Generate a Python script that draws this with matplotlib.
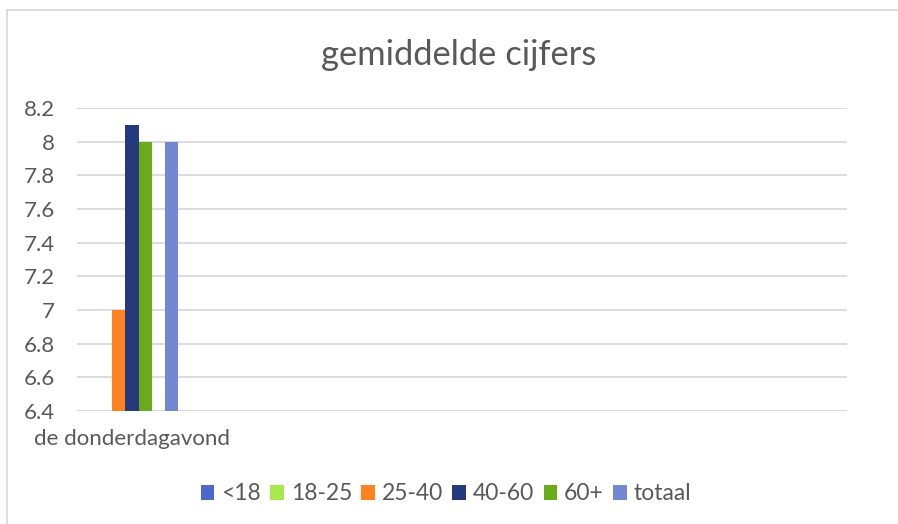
import numpy as np
import matplotlib
matplotlib.use("Agg")
import matplotlib.pyplot as plt
from matplotlib.lines import Line2D
from matplotlib.patches import Patch

categories = ["de donderdagavond", "", "", "", "", "", ""]
series_names = ["<18", "18-25", "25-40", "40-60", "60+", "totaal"]
series_colors = ["#4A69C8", "#A8E84F", "#FF8220", "#253A7C", "#6AAB19", "#7387D3"]
# values for first category only (others empty)
v_lt18 = [np.nan] + [np.nan] * 6
v_18_25 = [np.nan] + [np.nan] * 6
v_25_40 = [7.0] + [np.nan] * 6
v_40_60 = [8.1] + [np.nan] * 6
v_60p = [8.0] + [np.nan] * 6
v_totaal = [8.0] + [np.nan] * 6
series_values = [v_lt18, v_18_25, v_25_40, v_40_60, v_60p, v_totaal]
# slot index within group (slot 5 left empty as in the reference)
slots = [0, 1, 2, 3, 4, 6]
yticks = [6.4, 6.6, 6.8, 7.0, 7.2, 7.4, 7.6, 7.8, 8.0, 8.2]
ytick_labels = ["6.4", "6.6", "6.8", "7", "7.2", "7.4", "7.6", "7.8", "8", "8.2"]

plt.rcParams['font.family'] = ['Lato', 'DejaVu Sans']
W, H = 898, 524
fig = plt.figure(figsize=(W / 100, H / 100), dpi=100)
ax = fig.add_axes([77 / W, (H - 411) / H, (847 - 77) / W, (411 - 108) / H])

x = np.arange(len(categories))
w = 0.119
for name, col, vals, s in zip(series_names, series_colors, series_values, slots):
    ax.bar(x + (s - 3) * w, np.array(vals) - 6.4, bottom=6.4, width=w,
           color=col, label=name, zorder=3)

ax.set_xlim(-0.5, len(categories) - 0.5)
ax.set_ylim(6.4, 8.2)
ax.set_yticks(yticks)
ax.set_yticklabels(ytick_labels)
ax.yaxis.grid(True, color="#D9D9D9", linewidth=1.3, zorder=0)
ax.set_xticks(x)
ax.set_xticklabels(categories)
ax.tick_params(axis='both', length=0, colors="#595959", labelsize=16)
ax.tick_params(axis='y', pad=16)
ax.tick_params(axis='x', pad=13)
for sp in ax.spines.values():
    sp.set_visible(False)
ax.axhline(6.4, color="#D9D9D9", linewidth=1.3, zorder=2)

fig.text(459 / W, 1 - 55 / H, "gemiddelde cijfers", ha="center", va="center",
         fontsize=24.8, color="#595959")

handles = [Patch(facecolor=c, edgecolor='none') for c in series_colors]
fig.legend(handles, series_names, loc="center", bbox_to_anchor=(446 / W, 1 - 494 / H),
           ncol=6, frameon=False, fontsize=16.5, labelcolor="#595959",
           handlelength=0.6, handleheight=0.6, handletextpad=0.3,
           columnspacing=0.4)

# chart area border (top and left visible)
fig.add_artist(Line2D([6.5 / W, 1], [1 - 9.5 / H, 1 - 9.5 / H], color="#D9D9D9", linewidth=1.3))
fig.add_artist(Line2D([6.5 / W, 6.5 / W], [0, 1 - 9.5 / H], color="#D9D9D9", linewidth=1.3))

fig.savefig("out.png", dpi=100, facecolor="white")
